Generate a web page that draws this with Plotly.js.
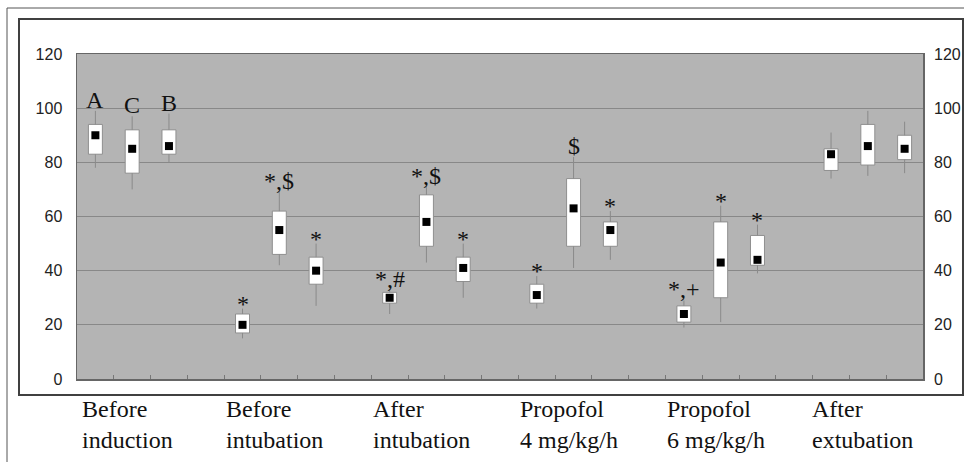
<!DOCTYPE html>
<html>
<head>
<meta charset="utf-8">
<script src="https://cdn.plot.ly/plotly-3.0.1.min.js"></script>
<style>html,body{margin:0;padding:0;background:#fff;}#chart{width:964px;height:462px;}</style>
</head>
<body>
<div id="chart"></div>
<script>
// Time points (groups) and the three sub-series in each group
var groups = ["Before<br>induction", "Before<br>intubation", "After<br>intubation",
              "Propofol<br>4 mg/kg/h", "Propofol<br>6 mg/kg/h", "After<br>extubation"];
var members = ["A", "C", "B"];

// Box statistics per group (rows) and member (columns A, C, B)
var lowWhisker = [[78, 70, 80], [15, 42, 27], [24, 43, 30], [26, 41, 44], [19, 21, 39], [74, 75, 76]];
var q1         = [[83, 76, 83], [17, 46, 35], [28, 49, 36], [28, 49, 49], [21, 30, 42], [77, 79, 81]];
var median     = [[90, 85, 86], [20, 55, 40], [30, 58, 41], [31, 63, 55], [24, 43, 44], [83, 86, 85]];
var q3         = [[94, 92, 92], [24, 62, 45], [32, 68, 45], [35, 74, 58], [27, 58, 53], [85, 94, 90]];
var highWhisker= [[99, 97, 98], [26, 69, 50], [33, 71, 50], [38, 82, 62], [29, 64, 57], [91, 99, 95]];

// Significance marks drawn above each box
var marks = [["A", "C", "B"], ["*", "*,$", "*"], ["*,#", "*,$", "*"],
             ["*", "$", "*"], ["*,+", "*", "*"], ["", "", ""]];

var yTicks = [0, 20, 40, 60, 80, 100, 120];

// ---- build traces ----
var slotsPerGroup = members.length + 1;
var bx = [], bbase = [], bh = [], mx = [], my = [];
var wx = [], wy = [];
var annotations = [];
for (var g = 0; g < groups.length; g++) {
  for (var m = 0; m < members.length; m++) {
    var x = g * slotsPerGroup + m;
    bx.push(x); bbase.push(q1[g][m]); bh.push(q3[g][m] - q1[g][m]);
    mx.push(x); my.push(median[g][m]);
    wx.push(x, x, null, x, x, null);
    wy.push(q3[g][m], highWhisker[g][m], null, q1[g][m], lowWhisker[g][m], null);
    var t = marks[g][m];
    if (t) {
      annotations.push({
        x: x, y: highWhisker[g][m], xref: "x", yref: "y",
        text: t, showarrow: false, yanchor: "bottom", xanchor: "center",
        yshift: (t === "*") ? -10 : -4,
        font: {family: "Liberation Serif, Times New Roman, serif", size: 24, color: "#111"}
      });
    }
  }
  annotations.push({
    x: g * slotsPerGroup + 1, y: -0.045, xref: "x", yref: "paper",
    text: groups[g], showarrow: false, xanchor: "center", yanchor: "top", align: "left",
    xshift: -5,
    font: {family: "Liberation Serif, Times New Roman, serif", size: 24, color: "#111"}
  });
}

var nSlots = groups.length * slotsPerGroup - 1;
var boundaries = [];
for (var b = 0; b <= nSlots; b++) boundaries.push(b - 0.5);

var traces = [
  {type: "scatter", mode: "lines", x: wx, y: wy, hoverinfo: "skip",
   line: {color: "#8a8a8a", width: 1}, showlegend: false},
  {type: "bar", x: bx, y: bh, base: bbase, width: 0.38,
   marker: {color: "#ffffff", line: {color: "#8f8f8f", width: 1}}, showlegend: false},
  {type: "scatter", mode: "markers", x: mx, y: my,
   marker: {symbol: "square", size: 8, color: "#000"}, showlegend: false},
  {type: "scatter", mode: "markers", x: [0], y: [0], yaxis: "y2",
   marker: {opacity: 0}, hoverinfo: "skip", showlegend: false}
];

var tickFont = {family: "Liberation Sans, Arial, sans-serif", size: 16, color: "#222"};
var L = 77, R = 923, T = 54, B = 379;
function px(v) { return (v - L) / (R - L); }
function py(v) { return (B - v) / (B - T); }

var layout = {
  width: 964, height: 462,
  margin: {l: L, r: 964 - R, t: T, b: 462 - B, pad: 0},
  paper_bgcolor: "#ffffff", plot_bgcolor: "#b4b4b4",
  showlegend: false,
  xaxis: {range: [-0.5, nSlots - 0.5], tickmode: "array", tickvals: boundaries,
          showticklabels: false, ticks: "inside", ticklen: 4, tickcolor: "#777",
          showgrid: false, zeroline: false, showline: true, linecolor: "#666", linewidth: 1.5,
          mirror: true, fixedrange: true},
  yaxis: {range: [0, 120], tickmode: "array", tickvals: yTicks, ticks: "",
          showgrid: true, gridcolor: "#888888", gridwidth: 1.3, zeroline: false,
          showline: true, linecolor: "#666", linewidth: 1.5, mirror: true,
          ticklabelstandoff: 10, tickfont: tickFont},
  yaxis2: {range: [0, 120], overlaying: "y", side: "right", tickmode: "array", tickvals: yTicks,
           showgrid: false, zeroline: false, showline: false, ticks: "",
           ticklabelstandoff: 10, tickfont: tickFont},
  annotations: annotations,
  shapes: [
    {type: "rect", xref: "paper", yref: "paper", x0: px(19), x1: px(963), y0: py(395), y1: py(19),
     line: {color: "#404040", width: 2}, layer: "below"},
    {type: "line", xref: "paper", yref: "paper", x0: px(7), x1: px(964), y0: py(8), y1: py(8),
     line: {color: "#555", width: 1}},
    {type: "line", xref: "paper", yref: "paper", x0: px(7), x1: px(7), y0: py(8), y1: py(462),
     line: {color: "#555", width: 1}}
  ]
};

Plotly.newPlot("chart", traces, layout, {displayModeBar: false, staticPlot: true});
</script>
</body>
</html>
